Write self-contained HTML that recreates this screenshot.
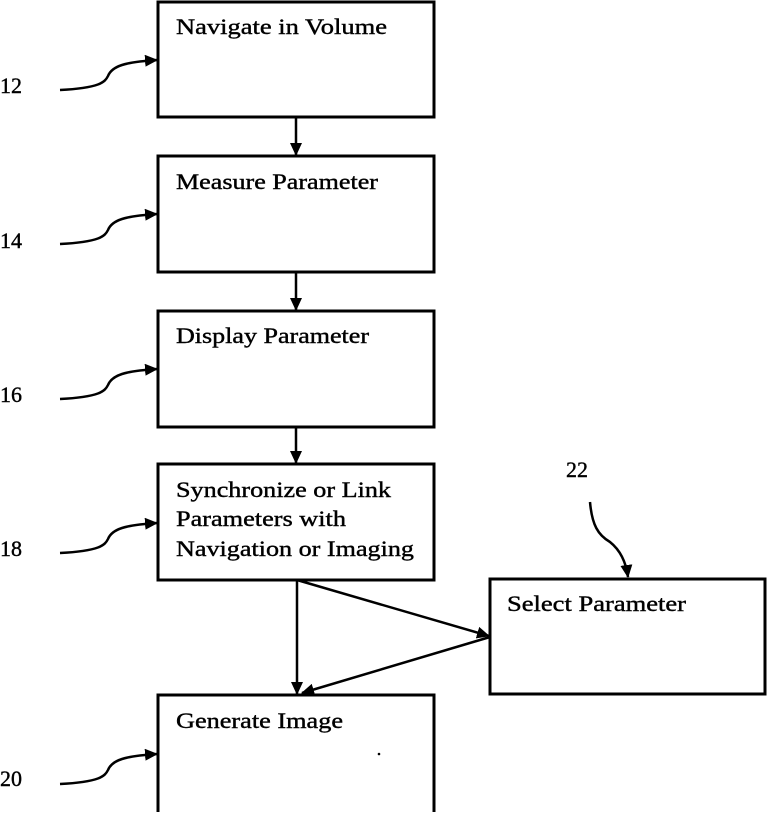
<!DOCTYPE html>
<html><head><style>
body{margin:0;background:#fff;width:768px;height:812px;overflow:hidden}
svg text{font-family:"Liberation Serif",serif;font-size:22px;fill:#000;stroke:#000;stroke-width:0.4}
</style></head><body>
<svg width="768" height="812" viewBox="0 0 768 812">
<defs><marker id="a" markerWidth="13" markerHeight="12" refX="12" refY="6" orient="auto" markerUnits="userSpaceOnUse"><path d="M0,0 L13,6 L0,12 z" fill="#000"/></marker></defs>
<g fill="none" stroke="#000" stroke-width="3">
<rect x="158" y="2" width="276" height="115"/>
<rect x="158" y="156" width="276" height="116"/>
<rect x="158" y="311" width="276" height="116"/>
<rect x="158" y="464" width="276" height="116"/>
<rect x="158" y="695" width="276" height="120"/>
<rect x="490" y="579" width="275" height="115"/>
</g>
<g fill="none" stroke="#000" stroke-width="2.5">
<line x1="296" y1="117" x2="296" y2="155" marker-end="url(#a)"/>
<line x1="296" y1="272" x2="296" y2="310" marker-end="url(#a)"/>
<line x1="296" y1="427" x2="296" y2="463" marker-end="url(#a)"/>
<line x1="297" y1="580" x2="297" y2="694" marker-end="url(#a)"/>
<line x1="297" y1="580" x2="489" y2="636" marker-end="url(#a)"/>
<line x1="490" y1="637" x2="302" y2="693" marker-end="url(#a)"/>
<path d="M60,90 C100,88 105,82 108,76 C112,66 125,62 157,60" marker-end="url(#a)"/>
<path d="M60,244 C100,242 105,236 108,230 C112,220 125,216 157,214" marker-end="url(#a)"/>
<path d="M60,399 C100,397 105,391 108,385 C112,375 125,371 157,369" marker-end="url(#a)"/>
<path d="M60,553 C100,551 105,545 108,539 C112,529 125,525 157,523" marker-end="url(#a)"/>
<path d="M60,784 C100,782 105,776 108,770 C112,760 125,756 157,754" marker-end="url(#a)"/>
<path d="M590,502 C592,525 598,535 610,542 C620,550 626,562 628,577" marker-end="url(#a)"/>
</g>
<text x="176" y="34" textLength="211" lengthAdjust="spacingAndGlyphs">Navigate in Volume</text>
<text x="176" y="189" textLength="202" lengthAdjust="spacingAndGlyphs">Measure Parameter</text>
<text x="176" y="343" textLength="193" lengthAdjust="spacingAndGlyphs">Display Parameter</text>
<text x="176" y="497" textLength="215" lengthAdjust="spacingAndGlyphs">Synchronize or Link</text>
<text x="176" y="526" textLength="170" lengthAdjust="spacingAndGlyphs">Parameters with</text>
<text x="176" y="556" textLength="238" lengthAdjust="spacingAndGlyphs">Navigation or Imaging</text>
<text x="507" y="611" textLength="179" lengthAdjust="spacingAndGlyphs">Select Parameter</text>
<text x="176" y="728" textLength="167" lengthAdjust="spacingAndGlyphs">Generate Image</text>
<text x="0" y="93">12</text>
<text x="0" y="248">14</text>
<text x="0" y="402">16</text>
<text x="0" y="556">18</text>
<text x="0" y="786">20</text>
<text x="566" y="477">22</text>
<circle cx="379" cy="754" r="1.3" fill="#000"/>
</svg>
</body></html>
